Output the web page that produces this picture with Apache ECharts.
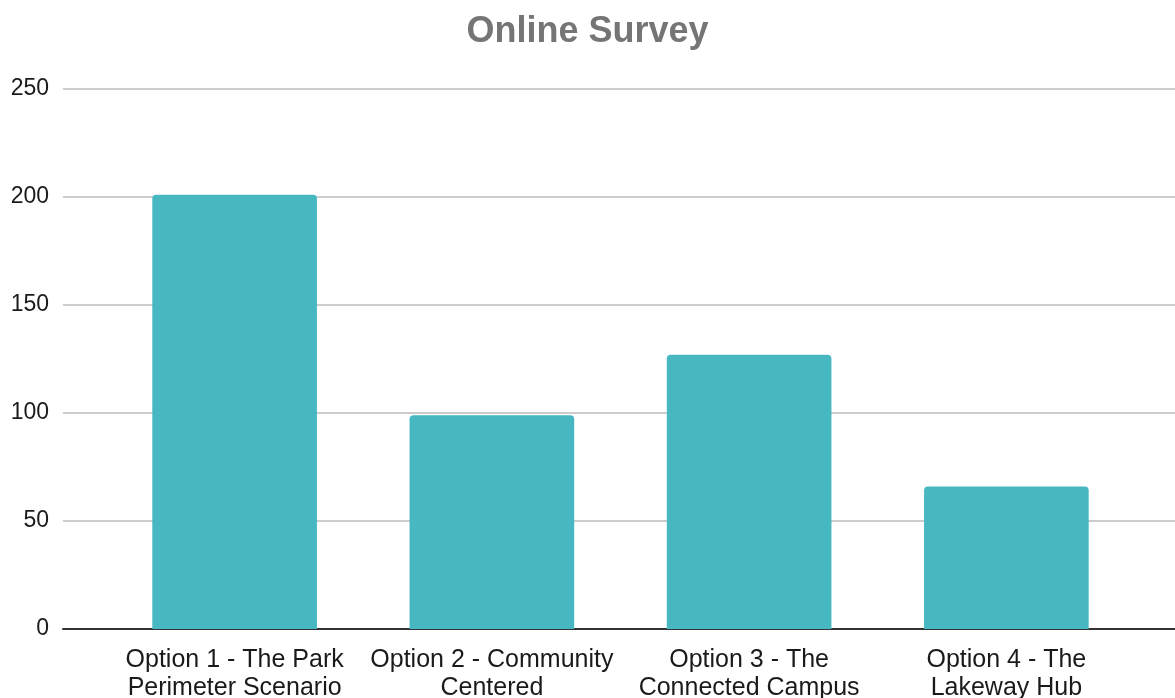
<!DOCTYPE html>
<html>
<head>
<meta charset="utf-8">
<script src="https://cdn.jsdelivr.net/npm/echarts@6/dist/echarts.min.js"></script>
<style>
  html, body { margin: 0; padding: 0; background: #fff; }
  #chart { width: 1175px; height: 698px; }
</style>
</head>
<body>
<div id="chart"></div>
<script>
// survey options and votes
const categories = [
  'Option 1 - The Park\nPerimeter Scenario',
  'Option 2 - Community\nCentered',
  'Option 3 - The\nConnected Campus',
  'Option 4 - The\nLakeway Hub'
]
const votes = [201, 99, 127, 66]
const yTicks = [0, 50, 100, 150, 200, 250]

const font = '"Liberation Sans", Arial, sans-serif'
const chart = echarts.init(document.getElementById('chart'))

chart.setOption({
  animation: false,
  title: {
    text: 'Online Survey',
    left: 'center',
    top: 9,
    textStyle: { fontFamily: font, fontSize: 36, fontWeight: 'bold', color: '#757575' }
  },
  // grid 0 : gridlines + y labels across full width, grid 1 : bars
  grid: [
    { left: 63, right: 0, top: 89, bottom: 69, containLabel: false, outerBoundsMode: 'none' },
    { left: 106, right: 40, top: 89, bottom: 69, containLabel: false, outerBoundsMode: 'none' }
  ],
  xAxis: [
    {
      gridIndex: 0,
      type: 'value',
      min: 0, max: 1,
      axisLine: { show: true, lineStyle: { color: '#333', width: 2 } },
      axisTick: { show: false },
      axisLabel: { show: false },
      splitLine: { show: false }
    },
    {
      gridIndex: 1,
      type: 'category',
      data: categories,
      axisLine: { show: false },
      axisTick: { show: false },
      axisLabel: {
        margin: 17,
        fontFamily: font,
        fontSize: 25,
        lineHeight: 28,
        color: '#1a1a1a',
        interval: 0
      }
    }
  ],
  yAxis: [
    {
      gridIndex: 0,
      type: 'value',
      min: yTicks[0],
      max: yTicks[yTicks.length - 1],
      interval: 50,
      axisLine: { show: false },
      axisTick: { show: false },
      axisLabel: { margin: 14, fontFamily: font, fontSize: 23, color: '#1a1a1a', padding: [7, 0, 0, 0] },
      splitLine: { lineStyle: { color: '#cccccc', width: 2 } }
    },
    {
      gridIndex: 1,
      type: 'value',
      min: yTicks[0],
      max: yTicks[yTicks.length - 1],
      show: false
    }
  ],
  series: [
    {
      type: 'bar',
      xAxisIndex: 1,
      yAxisIndex: 1,
      data: votes,
      barCategoryGap: '36%',
      itemStyle: { color: '#47b8c2', borderRadius: [4, 4, 0, 0] }
    }
  ]
})
</script>
</body>
</html>
